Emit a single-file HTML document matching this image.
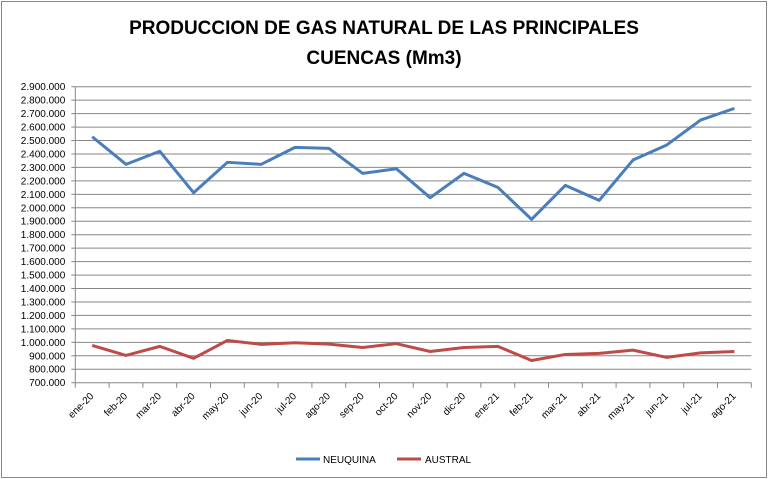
<!DOCTYPE html>
<html><head><meta charset="utf-8"><style>
body{margin:0;background:#fff;}
svg{display:block;font-family:"Liberation Sans",sans-serif;}
</style></head><body>
<svg id="c" width="768" height="479">
<rect x="1.5" y="1.5" width="765" height="476" fill="#fff" stroke="#888"/>
<text x="384" y="34" text-anchor="middle" font-size="19" font-weight="bold">PRODUCCION DE GAS NATURAL DE LAS PRINCIPALES</text>
<text x="384" y="64" text-anchor="middle" font-size="19" font-weight="bold">CUENCAS (Mm3)</text>
<g id="grid"></g><g id="axes"></g><g id="series"></g>
<g>
<line x1="296" y1="459" x2="320" y2="459" stroke="#4a7ebb" stroke-width="3"/>
<text x="323" y="463" font-size="10">NEUQUINA</text>
<line x1="397" y1="459" x2="421" y2="459" stroke="#be4b48" stroke-width="3"/>
<text x="425" y="463" font-size="10">AUSTRAL</text>
</g>
</svg>
<script>
const categories=["ene-20","feb-20","mar-20","abr-20","may-20","jun-20","jul-20","ago-20","sep-20","oct-20","nov-20","dic-20","ene-21","feb-21","mar-21","abr-21","may-21","jun-21","jul-21","ago-21"];
const neuquina=[2528000,2323000,2420000,2112000,2338000,2323000,2449000,2442000,2256000,2290000,2075000,2256000,2152000,1914000,2167000,2055000,2355000,2467000,2652000,2739000];
const austral=[977000,903000,970000,881000,1014000,985000,997000,987000,962000,990000,932000,962000,970000,865000,910000,918000,942000,888000,922000,932000];
const yTicks=[700000,800000,900000,1000000,1100000,1200000,1300000,1400000,1500000,1600000,1700000,1800000,1900000,2000000,2100000,2200000,2300000,2400000,2500000,2600000,2700000,2800000,2900000];
const L=75.3,R=751.3,T=86.7,B=382.7,yMin=700000,yMax=2900000;
const ns="http://www.w3.org/2000/svg";
const y=v=>B-(v-yMin)/(yMax-yMin)*(B-T);
const bw=(R-L)/categories.length;
const x=i=>L+bw*(i+0.5);
function mk(t,a,p){const e=document.createElementNS(ns,t);for(const k in a)e.setAttribute(k,a[k]);p.appendChild(e);return e;}
const grid=document.getElementById('grid'),axes=document.getElementById('axes'),ser=document.getElementById('series');
const fmt=v=>v.toString().replace(/\B(?=(\d{3})+(?!\d))/g,'.');
yTicks.forEach(v=>{
 const g=mk('line',{x1:L,x2:R,y1:y(v),y2:y(v),stroke:'#868686','stroke-width':1},grid);
 
 
 mk('line',{x1:L-4,x2:L,y1:y(v),y2:y(v),stroke:'#868686'},axes);
 const t=mk('text',{x:L-10,y:y(v)+3.5,'text-anchor':'end','font-size':10},axes);
 t.textContent=fmt(v);
 
 
});
mk('line',{x1:L,x2:L,y1:T,y2:B,stroke:'#868686'},axes);
categories.forEach((c,i)=>{
 mk('line',{x1:L+bw*i,x2:L+bw*i,y1:B,y2:B+5,stroke:'#868686'},axes);
 const t=mk('text',{x:x(i)+2,y:B+14,'text-anchor':'end','font-size':10,transform:`rotate(-45 ${x(i)+2} ${B+14})`},axes);
 t.textContent=c;
 
 
});
mk('line',{x1:R,x2:R,y1:B,y2:B+5,stroke:'#868686'},axes);
function line(d,col,name){
 const p=mk('polyline',{points:d.map((v,i)=>x(i)+','+y(v)).join(' '),fill:'none',stroke:col,'stroke-width':3,'stroke-linejoin':'round'},ser);
 
 
}
line(neuquina,'#4a7ebb','neuquina-line');
line(austral,'#be4b48','austral-line');
</script>
</body></html>
